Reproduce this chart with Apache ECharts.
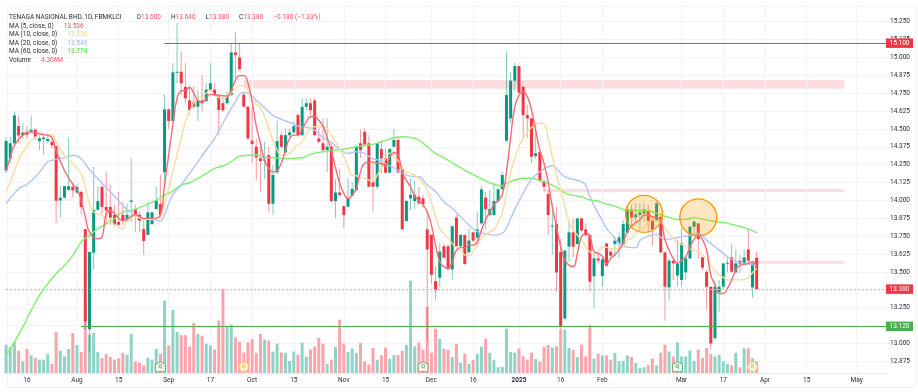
<!DOCTYPE html>
<html>
<head>
<meta charset="utf-8">
<title>TENAGA NASIONAL BHD</title>
<script src="https://cdn.jsdelivr.net/npm/echarts@6/dist/echarts.min.js"></script>
<style>
  html, body { margin: 0; padding: 0; background: #fff; }
  #chart { width: 918px; height: 392px; }
</style>
</head>
<body>
<div id="chart"></div>
<script>
// sessions closed on Bursa, skipped on the time axis
const holidays = ['2024-09-16', '2024-10-31', '2024-12-25', '2025-01-01', '2025-01-29', '2025-01-30', '2025-02-11', '2025-03-18'];
const sessionCount = 212; // traded bars plus the empty future

const tickDates = ['2024-07-16', '2024-08-01', '2024-08-15', '2024-09-02', '2024-09-17', '2024-10-01', '2024-10-15', '2024-11-01', '2024-11-15', '2024-12-02', '2024-12-16', '2025-01-02', '2025-01-16', '2025-02-03', '2025-03-03', '2025-03-17', '2025-04-01', '2025-04-15', '2025-05-01'];
const tickLabels = ['16', 'Aug', '15', 'Sep', '17', 'Oct', '15', 'Nov', '15', 'Dec', '16', '2025', '16', 'Feb', 'Mar', '17', 'Apr', '15', 'May'];
const priceTicks = [12.875, 13, 13.125, 13.25, 13.375, 13.5, 13.625, 13.75, 13.875, 14, 14.125, 14.25, 14.375, 14.5, 14.625, 14.75, 14.875, 15, 15.125, 15.25];

const opens = [14.21,14.295,14.40,14.52,14.455,14.48,14.48,14.495,14.415,14.43,14.415,14.41,14.38,14.0,14.02,14.075,14.095,14.055,14.06,13.80,
  13.10,13.635,13.935,14.095,13.955,13.955,13.90,13.85,13.90,13.855,13.99,13.94,13.90,13.80,13.76,13.835,13.94,13.975,14.197,14.637,
  14.556,14.895,14.90,14.795,14.70,14.686,14.656,14.70,14.695,14.775,14.775,14.737,14.68,14.68,14.737,15.036,15.0,14.74,14.656,14.418,
  14.376,14.295,14.28,14.317,13.977,14.196,14.457,14.336,14.457,14.476,14.597,14.457,14.655,14.68,14.70,14.434,14.40,14.352,14.376,13.996,
  14.056,13.96,13.956,14.033,14.073,14.40,14.48,14.40,14.136,14.096,14.36,14.295,14.194,14.376,14.423,14.213,13.856,14.015,13.996,14.026,
  14.015,13.798,13.76,13.436,13.46,13.68,13.68,13.518,13.88,13.68,13.76,13.637,13.777,13.74,13.84,14.02,13.898,13.898,13.996,14.078,
  14.418,14.574,14.838,14.94,14.796,14.597,14.574,14.31,14.34,14.138,14.045,13.82,13.835,13.64,13.175,13.677,13.777,13.695,13.875,13.798,
  13.758,13.47,13.595,13.472,13.70,13.642,13.695,13.70,13.695,13.775,13.938,13.882,13.898,13.91,13.933,13.863,13.863,13.886,13.637,13.392,
  13.579,13.476,13.444,13.497,13.595,13.817,13.84,13.602,13.502,13.397,13.036,13.36,13.397,13.56,13.602,13.497,13.579,13.56,13.658,13.392,13.60];
const highs = [14.44,14.445,14.62,14.595,14.54,14.52,14.595,14.505,14.47,14.47,14.47,14.435,14.385,14.10,14.10,14.44,14.13,14.11,14.07,13.80,
  13.64,14.235,14.10,14.11,14.2,14.11,13.97,14.06,13.99,13.975,14.295,13.97,13.92,13.86,13.99,13.92,14.097,14.18,14.737,14.645,
  14.96,15.24,15.04,14.96,14.80,14.80,14.77,14.877,14.82,14.96,14.82,14.74,14.74,14.76,15.10,15.18,15.10,14.76,14.66,14.655,
  14.43,14.387,14.41,14.376,14.247,14.555,14.48,14.504,14.504,14.55,14.61,14.714,14.714,14.714,14.714,14.504,14.574,14.574,14.41,14.15,
  14.22,13.968,14.154,14.13,14.387,14.497,14.504,14.457,14.266,14.40,14.42,14.365,14.365,14.50,14.446,14.22,14.003,14.155,14.136,14.096,
  14.04,13.93,13.76,13.537,13.70,13.70,13.69,13.82,13.90,13.76,13.76,13.80,13.78,13.92,14.103,14.057,14.073,14.127,14.085,14.197,
  15.04,14.90,14.963,14.94,14.796,14.67,14.574,14.54,14.34,14.138,14.07,13.98,13.956,13.73,13.65,13.858,13.87,13.88,13.88,13.84,
  13.77,13.625,13.63,13.607,13.705,13.653,13.747,13.77,13.863,13.968,13.968,13.98,13.98,13.98,13.968,13.886,13.991,13.898,13.637,13.595,
  13.585,13.723,13.805,13.607,13.821,13.863,13.84,13.607,13.514,13.397,13.444,13.444,13.56,13.60,13.70,13.658,13.618,13.658,13.80,13.56,13.64];
const lows = [14.19,14.26,14.385,14.40,14.43,14.43,14.47,14.425,14.35,14.32,14.40,14.365,13.84,13.88,14.015,14.07,14.02,14.05,13.90,13.10,
  12.94,13.52,13.93,13.905,13.83,13.83,13.82,13.82,13.83,13.85,13.85,13.78,13.78,13.62,13.76,13.83,13.935,13.875,14.11,14.50,
  14.55,14.82,14.74,14.68,14.60,14.645,14.556,14.62,14.69,14.77,14.73,14.46,14.62,14.67,14.733,14.854,14.91,14.65,14.42,14.26,
  14.14,14.06,14.15,13.92,13.90,14.19,14.365,14.33,14.42,14.47,14.446,14.45,14.63,14.597,14.45,14.40,14.347,14.196,13.99,13.88,
  14.03,13.805,13.95,14.026,14.066,14.298,14.387,14.09,13.92,14.08,14.19,14.19,14.19,14.37,14.19,13.793,13.85,13.93,13.94,13.97,
  13.945,13.02,13.42,13.30,13.397,13.595,13.514,13.44,13.676,13.676,13.55,13.63,13.71,13.684,13.83,13.80,13.887,13.893,13.99,14.073,
  14.41,14.54,14.768,14.75,14.44,14.44,14.26,14.29,14.13,14.06,13.758,13.618,13.362,13.10,13.16,13.57,13.605,13.69,13.78,13.75,
  13.362,13.245,13.56,13.397,13.535,13.588,13.607,13.602,13.688,13.77,13.817,13.84,13.793,13.852,13.77,13.681,13.852,13.63,13.159,13.30,
  13.444,13.397,13.397,13.444,13.588,13.758,13.595,13.514,13.238,12.959,13.036,13.222,13.385,13.50,13.497,13.49,13.495,13.548,13.56,13.32,13.38];
const closes = [14.416,14.40,14.595,14.455,14.475,14.46,14.495,14.445,14.435,14.44,14.43,14.385,13.998,14.02,14.10,14.10,14.07,14.095,13.955,13.155,
  13.64,13.935,13.995,13.955,13.93,13.88,13.83,13.83,13.855,13.90,14.0,13.90,13.86,13.717,13.917,13.917,14.0,13.90,14.637,14.556,
  14.896,14.90,14.82,14.714,14.633,14.656,14.70,14.68,14.775,14.82,14.737,14.633,14.63,14.733,15.036,15.017,14.917,14.656,14.434,14.395,
  14.30,14.275,14.285,13.977,14.178,14.415,14.376,14.457,14.476,14.52,14.457,14.655,14.68,14.632,14.457,14.41,14.352,14.376,13.996,14.056,
  14.038,13.898,14.014,14.08,14.376,14.352,14.392,14.096,14.096,14.40,14.294,14.194,14.36,14.423,14.197,13.798,13.996,14.04,14.04,13.98,
  13.975,13.658,13.48,13.373,13.642,13.60,13.518,13.82,13.68,13.76,13.556,13.72,13.72,13.798,14.078,13.94,13.94,13.996,14.078,14.178,
  14.737,14.838,14.94,14.754,14.597,14.574,14.306,14.33,14.138,14.096,13.898,13.825,13.497,13.117,13.65,13.777,13.677,13.875,13.79,13.758,
  13.432,13.595,13.58,13.588,13.544,13.614,13.719,13.742,13.835,13.938,13.882,13.903,13.917,13.938,13.858,13.798,13.98,13.637,13.397,13.579,
  13.56,13.56,13.70,13.595,13.817,13.852,13.73,13.53,13.397,13.0,13.397,13.397,13.56,13.565,13.502,13.56,13.555,13.602,13.579,13.56,13.38];

// millions of shares
const volumes = [10.4,9.6,11.4,8.2,4.3,8.8,6.5,5.5,4.9,4.9,7.1,3.3,15.1,8.2,6.1,8.8,14.7,10.3,7.7,24.5,
  14.1,14.7,7.7,5.5,7.0,5.9,4.9,5.4,7.4,6.7,14.4,4.2,3.8,2.8,5.6,4.9,8.8,7.1,26.6,10.1,
  23.2,15.1,13.9,13.9,9.7,18.4,14.4,13.7,10.8,10.1,8.6,19.3,31.0,17.4,17.8,13.1,11.5,7.5,11.3,12.5,
  7.4,14.4,12.3,11.9,7.9,10.8,7.6,7.4,4.4,7.9,6.7,11.2,5.9,8.6,9.7,13.0,10.8,3.3,4.9,9.6,
  19.6,10.8,7.7,9.0,7.4,11.0,4.3,3.1,9.2,4.9,6.5,9.3,5.2,6.5,6.7,8.2,10.4,34.0,9.8,11.2,
  8.6,24.3,7.4,16.3,12.5,8.8,8.5,5.9,10.7,3.7,7.1,3.4,4.8,7.0,9.7,12.6,7.4,4.7,2.1,2.3,
  16.3,7.7,7.5,9.0,6.1,4.9,7.5,5.2,4.2,9.6,10.3,9.4,9.8,16.0,16.0,9.2,8.6,5.9,10.4,6.1,
  17.7,5.3,7.1,6.5,6.5,4.9,7.4,4.3,4.4,6.4,5.9,3.7,1.8,2.1,2.8,5.3,2.8,7.4,10.4,7.9,
  6.1,11.3,6.1,6.1,8.3,4.5,8.6,5.5,9.2,7.0,6.1,6.7,4.3,3.4,2.8,7.4,2.1,9.1,9.1,5.4,4.306];

const ma5 = [14.21,14.30,14.385,null,14.455,null,14.48,null,14.467,null,14.455,14.44,14.35,null,14.21,null,14.113,14.08,14.0,13.885,
  13.78,null,13.733,13.744,13.907,13.93,13.907,null,13.86,13.87,null,13.90,null,13.875,null,13.875,null,13.90,14.11,14.32,
  14.53,14.714,14.766,14.77,14.79,14.75,14.70,14.684,14.714,14.742,null,14.737,null,14.73,14.772,14.84,14.873,14.873,14.82,14.69,
  14.52,14.40,14.28,14.225,14.20,14.21,14.26,14.352,14.435,14.457,14.457,14.50,14.55,14.586,14.586,14.56,14.52,14.44,14.345,14.23,
  14.12,14.05,14.014,14.038,14.084,14.2,14.26,14.266,14.27,14.26,14.26,14.236,14.306,14.334,14.318,14.2,14.14,14.096,14.03,14.0,
  13.968,13.92,13.828,13.69,13.572,13.537,13.525,13.572,13.653,13.67,13.67,13.688,13.688,13.71,13.793,13.863,13.92,13.968,14.0,14.04,
  14.2,14.44,14.656,14.737,14.76,14.726,14.632,14.492,14.353,14.26,14.13,13.956,13.817,13.677,13.583,13.548,13.537,13.63,13.747,13.77,
  13.747,13.642,13.63,13.61,13.555,13.595,13.62,13.655,13.71,13.78,13.82,13.845,13.863,13.898,13.898,13.886,13.882,13.863,13.728,13.653,
  13.595,13.56,13.583,13.607,13.677,13.728,13.758,13.728,13.653,13.48,13.41,13.35,13.35,13.385,13.444,13.514,13.548,13.553,13.56,13.572,13.536];
const ma10 = [14.06,14.13,14.21,14.28,14.34,14.374,14.42,null,14.455,null,14.462,14.462,14.41,null,14.315,null,14.257,null,14.187,14.094,
  13.977,13.92,null,13.896,null,13.85,null,13.814,13.80,13.86,null,13.887,null,13.87,null,13.87,null,13.89,13.99,14.085,
  14.2,14.32,14.434,14.55,14.62,14.68,14.714,14.726,14.75,14.77,14.737,null,14.714,14.726,14.75,14.784,14.803,14.803,14.772,14.714,
  14.675,14.65,14.585,14.504,14.42,14.352,14.317,14.317,14.33,14.364,14.388,14.41,14.457,14.504,14.516,14.516,14.516,14.504,14.457,14.41,
  14.364,14.306,14.236,14.178,14.173,14.16,14.154,14.143,14.13,14.178,14.224,14.295,14.33,14.306,14.28,14.236,14.197,14.19,14.178,14.155,
  14.12,14.073,13.99,13.886,13.805,13.77,13.735,13.70,13.67,13.653,13.62,13.614,13.64,13.688,13.735,13.763,13.78,13.793,13.85,13.915,
  14.05,14.195,14.295,14.376,14.434,14.48,14.51,14.535,14.54,14.535,14.434,14.306,14.178,14.073,13.956,13.852,13.793,13.758,13.723,13.677,
  13.642,13.625,13.642,13.677,13.672,13.665,13.66,13.665,13.677,13.723,13.735,13.77,13.793,13.817,13.845,13.863,13.858,13.845,13.805,13.77,
  13.735,13.705,13.693,13.677,13.658,13.653,13.642,13.618,13.588,13.548,13.514,13.48,13.462,13.444,13.444,13.448,13.444,13.448,13.462,13.495,13.526];
// [session number, value], every session or two
const ma20 = [[0,13.977],[3,14.082],[5,14.113],[7,14.164],[9,14.234],[10,14.27],[12,14.287],[14,14.30],[16,14.315],[18,14.292],[20,14.215],[22,14.152],[24,14.09],[26,14.03],[28,13.966],[29,13.938],[30,13.922],[32,13.88],[34,13.87],[36,13.863],[37,13.856],[38,13.90],[39,13.98],[40,14.04],[42,14.11],[44,14.19],[46,14.27],[48,14.353],[50,14.434],[52,14.54],[54,14.644],[55,14.69],[56,14.742],[57,14.756],[58,14.75],[59,14.73],[60,14.70],[61,14.675],[62,14.648],[64,14.595],[66,14.567],[68,14.546],[70,14.52],[72,14.511],[74,14.492],[76,14.441],[78,14.406],[80,14.36],[82,14.329],[84,14.341],[86,14.329],[88,14.29],[90,14.28],[91,14.255],[93,14.229],[95,14.19],[97,14.17],[99,14.166],[101,14.108],[103,14.061],[105,13.991],[107,13.945],[109,13.886],[111,13.828],[113,13.782],[115,13.768],[117,13.758],[119,13.77],[120,13.81],[122,13.938],[124,14.05],[126,14.148],[128,14.2],[130,14.236],[131,14.241],[132,14.224],[133,14.19],[134,14.166],[136,14.148],[138,14.131],[139,14.108],[140,14.026],[142,13.91],[143,13.86],[144,13.805],[145,13.77],[147,13.70],[149,13.672],[151,13.67],[152,13.719],[154,13.751],[156,13.763],[157,13.742],[158,13.728],[160,13.735],[162,13.747],[164,13.756],[166,13.77],[168,13.723],[170,13.677],[172,13.63],[174,13.588],[176,13.565],[178,13.555],[180,13.546]];
const ma60 = [[0,12.917],[2,13.01],[4,13.115],[6,13.231],[8,13.336],[10,13.418],[12,13.488],[14,13.546],[16,13.616],[18,13.709],[19,13.737],[20,13.756],[22,13.803],[24,13.837],[26,13.872],[28,13.919],[30,13.93],[32,13.95],[34,13.973],[36,14.003],[38,14.038],[40,14.066],[42,14.108],[44,14.124],[46,14.155],[48,14.19],[50,14.225],[52,14.241],[54,14.271],[56,14.31],[58,14.316],[60,14.318],[62,14.30],[64,14.299],[68,14.294],[71,14.299],[73,14.324],[76,14.341],[79,14.352],[82,14.364],[85,14.38],[88,14.392],[90,14.411],[91,14.42],[93,14.439],[95,14.446],[97,14.441],[99,14.423],[101,14.376],[103,14.33],[105,14.299],[107,14.264],[109,14.229],[111,14.197],[113,14.166],[115,14.136],[117,14.113],[119,14.103],[120,14.12],[122,14.143],[124,14.155],[126,14.155],[128,14.138],[130,14.12],[132,14.092],[134,14.054],[136,14.036],[138,14.026],[140,14.003],[142,13.996],[144,13.975],[146,13.961],[148,13.938],[150,13.93],[153,13.93],[155,13.92],[157,13.90],[159,13.882],[161,13.868],[163,13.868],[165,13.88],[167,13.868],[169,13.858],[171,13.849],[173,13.84],[175,13.826],[177,13.81],[179,13.789],[180,13.774]];

// drawings on the chart
const zones = [['2024-09-27', '2025-04-28', 14.842, 14.781], ['2025-01-10', '2025-04-28', 14.08, 14.057], ['2025-03-27', '2025-04-28', 13.579, 13.558]];
const circleDates = ['2025-02-18', '2025-03-07'];
const circlePrices = [13.907, 13.882];
const eventDates = ['2024-08-29', '2024-09-27', '2024-11-28', '2025-02-28', '2025-03-27'];
const eventKinds = ['Q', 'D', 'Q', 'Q', 'D'];
const resistancePrice = 15.1;
const resistanceFrom = '2024-08-30';
const supportPrice = 13.12;
const supportFrom = '2024-08-02';
const lastPrice = 13.38;

const symbolLine = 'TENAGA NASIONAL BHD, 1D, FBMKLCI';
const ohlcNames = ['O', 'H', 'L', 'C'];
const ohlcValues = ['13.600', '13.640', '13.380', '13.380'];
const changeText = '\u22120.180 (\u22121.33%)';
const legendNames = ['MA (5, close, 0)', 'MA (10, close, 0)', 'MA (20, close, 0)', 'MA (60, close, 0)', 'Volume'];
const legendValues = ['13.536', '13.526', '13.546', '13.774', '4.306M'];

const UP = '#089981';
const DOWN = '#f23645';
const GRID_LINE = '#f3f4f7';
const FONT = 'Roboto, sans-serif';
const LABEL_SIZE = 6.5;

// trading calendar
const categories = [];
for (let t = Date.UTC(2024, 6, 9); categories.length < sessionCount; t += 86400000) {
  const d = new Date(t);
  const key = d.toISOString().slice(0, 10);
  if (d.getUTCDay() % 6 !== 0 && !holidays.includes(key)) categories.push(key);
}
const lastCategory = categories[sessionCount - 1];

const candleData = opens.map((o, i) => [i, o, closes[i], lows[i], highs[i]]);
const volumeData = volumes.map((v, i) => ({
  value: v,
  itemStyle: { color: closes[i] >= opens[i] ? '#8fd3c7' : '#fba4ab' },
}));

function renderCandle(params, api) {
  const x = api.coord([api.value(0), 0])[0];
  const open = api.coord([api.value(0), api.value(1)])[1];
  const close = api.coord([api.value(0), api.value(2)])[1];
  const low = api.coord([api.value(0), api.value(3)])[1];
  const high = api.coord([api.value(0), api.value(4)])[1];
  const color = api.value(2) >= api.value(1) ? UP : DOWN;
  const top = Math.min(open, close);
  return {
    type: 'group',
    children: [
      { type: 'rect', shape: { x: x - 0.5, y: high, width: 1, height: low - high }, style: { fill: color, opacity: 0.5 } },
      { type: 'rect', shape: { x: x - 1.5, y: top, width: 3, height: Math.max(Math.abs(close - open), 1) }, style: { fill: color } },
    ],
  };
}

function maSeries(name, data, color) {
  return {
    name,
    type: 'line',
    data,
    showSymbol: false,
    connectNulls: true,
    smooth: true,
    z: 5,
    silent: true,
    lineStyle: { color, width: 1.4 },
  };
}

function priceTag(text, color) {
  return {
    show: true,
    position: 'end',
    distance: 0,
    formatter: text,
    color: '#fff',
    fontFamily: FONT,
    fontSize: LABEL_SIZE,
    backgroundColor: color,
    padding: [1.5, 3.6, 1, 3.6],
    align: 'left',
  };
}

const legendColors = ['#f7525f', '#f8cf8e', '#9db8ee', '#36e436', '#f7525f'];
const titleRich = {
  k: { color: '#2a2e39', fontSize: LABEL_SIZE, fontFamily: FONT },
  r: { color: '#f7525f', fontSize: LABEL_SIZE, fontFamily: FONT },
  c0: { color: legendColors[0], fontSize: LABEL_SIZE, fontFamily: FONT },
  c1: { color: legendColors[1], fontSize: LABEL_SIZE, fontFamily: FONT },
  c2: { color: legendColors[2], fontSize: LABEL_SIZE, fontFamily: FONT },
  c3: { color: legendColors[3], fontSize: LABEL_SIZE, fontFamily: FONT },
  c4: { color: legendColors[4], fontSize: LABEL_SIZE, fontFamily: FONT },
};
const headerText = '{k|' + symbolLine + '}   ' +
  ohlcNames.map((n, i) => '{k|' + n + '}{r|' + ohlcValues[i] + '}').join('  ') + '  {r|' + changeText + '}';
const titles = [{ text: headerText, left: 9, top: 8.5, padding: 0, textStyle: { rich: titleRich, fontWeight: 'normal' } }];
legendNames.forEach((n, i) => {
  titles.push({
    text: '{k|' + n + '}  {c' + i + '|' + legendValues[i] + '}',
    left: 9,
    top: 17.3 + i * 8.4,
    padding: 0,
    textStyle: { rich: titleRich, fontWeight: 'normal' },
  });
});

const chart = echarts.init(document.getElementById('chart'), null, { renderer: 'canvas' });
chart.setOption({
  animation: false,
  backgroundColor: '#fff',
  title: titles,
  graphic: [{
    type: 'rect',
    left: 5,
    top: 4,
    silent: true,
    z: -1,
    shape: { width: 908, height: 381 },
    style: { fill: 'none', stroke: '#f2f3f5', lineWidth: 1 },
  }],
  grid: { left: 4, top: 5, width: 884, height: 368, containLabel: false },
  xAxis: {
    type: 'category',
    data: categories,
    boundaryGap: true,
    axisLine: { lineStyle: { color: '#e8eaef', width: 1 } },
    axisTick: { show: false },
    splitLine: { show: false },
    axisLabel: {
      interval: (idx, value) => tickDates.includes(value),
      formatter: (value) => {
        const label = tickLabels[tickDates.indexOf(value)];
        return label === '2025' ? '{b|2025}' : label;
      },
      rich: { b: { fontWeight: 'bold', fontSize: LABEL_SIZE, fontFamily: FONT, color: '#2a2e39' } },
      margin: 4,
      color: '#2a2e39',
      fontFamily: FONT,
      fontSize: LABEL_SIZE,
    },
  },
  yAxis: [
    {
      type: 'value',
      position: 'right',
      min: 12.7936,
      max: 15.367,
      offset: -2,
      axisLine: { show: false },
      axisTick: { show: true, customValues: priceTicks, length: 3, lineStyle: { color: '#e8eaef' } },
      splitLine: { show: true, lineStyle: { color: GRID_LINE, width: 1 } },
      axisLabel: {
        customValues: priceTicks,
        formatter: (v) => v.toFixed(3),
        margin: 4,
        color: '#2a2e39',
        fontFamily: FONT,
        fontSize: LABEL_SIZE,
      },
    },
    { type: 'value', min: 0, max: 135.4, show: false, splitLine: { show: false } },
  ],
  series: [
    {
      name: 'Volume',
      type: 'bar',
      yAxisIndex: 1,
      data: volumeData,
      barWidth: 3,
      z: 2,
      silent: true,
      // vertical grid sits on the date ticks
      markLine: {
        silent: true,
        symbol: 'none',
        z: 1,
        label: { show: false },
        lineStyle: { color: GRID_LINE, width: 1, type: 'solid' },
        data: tickDates.map((d) => ({ xAxis: d })),
      },
    },
    {
      name: 'Zones',
      type: 'line',
      data: [],
      z: 3,
      markArea: {
        silent: true,
        itemStyle: { color: 'rgba(242,54,69,0.17)' },
        data: zones.map((z) => [{ xAxis: z[0], yAxis: z[2] }, { xAxis: z[1], yAxis: z[3] }]),
      },
    },
    {
      name: 'Price',
      type: 'custom',
      renderItem: renderCandle,
      encode: { x: 0, y: [1, 2, 3, 4] },
      data: candleData,
      z: 4,
      silent: true,
      clip: false,
    },
    maSeries('MA60', ma60, '#7ff06f'),
    maSeries('MA20', ma20, '#b0c6f4'),
    maSeries('MA10', ma10.map((v, i) => [i, v]), '#fddc9e'),
    maSeries('MA5', ma5.map((v, i) => [i, v]), '#f96a74'),
    {
      name: 'Levels',
      type: 'line',
      data: [],
      z: 6,
      clip: false,
      markLine: {
        silent: true,
        symbol: 'none',
        z: 6,
        data: [
          [
            { coord: [resistanceFrom, resistancePrice], lineStyle: { color: DOWN, width: 1.2, type: 'solid' }, label: priceTag(resistancePrice.toFixed(3), DOWN) },
            { coord: [lastCategory, resistancePrice] },
          ],
          [
            { coord: [supportFrom, supportPrice], lineStyle: { color: '#4caf50', width: 1.2, type: 'solid' }, label: priceTag(supportPrice.toFixed(3), '#4caf50') },
            { coord: [lastCategory, supportPrice] },
          ],
          [
            { coord: [categories[0], lastPrice], lineStyle: { color: '#f7a8af', width: 1, type: [2, 2] }, label: priceTag(lastPrice.toFixed(3), DOWN) },
            { coord: [lastCategory, lastPrice] },
          ],
        ],
      },
      // the two orange circles
      markPoint: {
        silent: true,
        symbol: 'circle',
        symbolSize: 37,
        z: 7,
        label: { show: false },
        itemStyle: { color: 'rgba(255,152,0,0.24)', borderColor: '#ff9800', borderWidth: 1.3 },
        data: circleDates.map((d, i) => ({ coord: [d, circlePrices[i]] })),
      },
    },
    {
      name: 'Events',
      type: 'scatter',
      yAxisIndex: 1,
      z: 8,
      silent: true,
      symbolSize: 10,
      data: eventDates.map((d, i) => {
        const isQ = eventKinds[i] === 'Q';
        const color = isQ ? '#43a047' : '#fbc02d';
        return {
          value: [d, 2.3],
          symbol: isQ ? 'path://M5 0L10 2.6V8.4Q10 10 8.4 10H1.6Q0 10 0 8.4V2.6Z' : 'circle',
          itemStyle: { color: isQ ? '#fff' : '#fff8e1', borderColor: color, borderWidth: 1 },
          label: { show: true, formatter: eventKinds[i], position: 'inside', color, fontSize: 6, fontFamily: FONT, fontWeight: 'bold' },
        };
      }),
    },
  ],
});
</script>
</body>
</html>
